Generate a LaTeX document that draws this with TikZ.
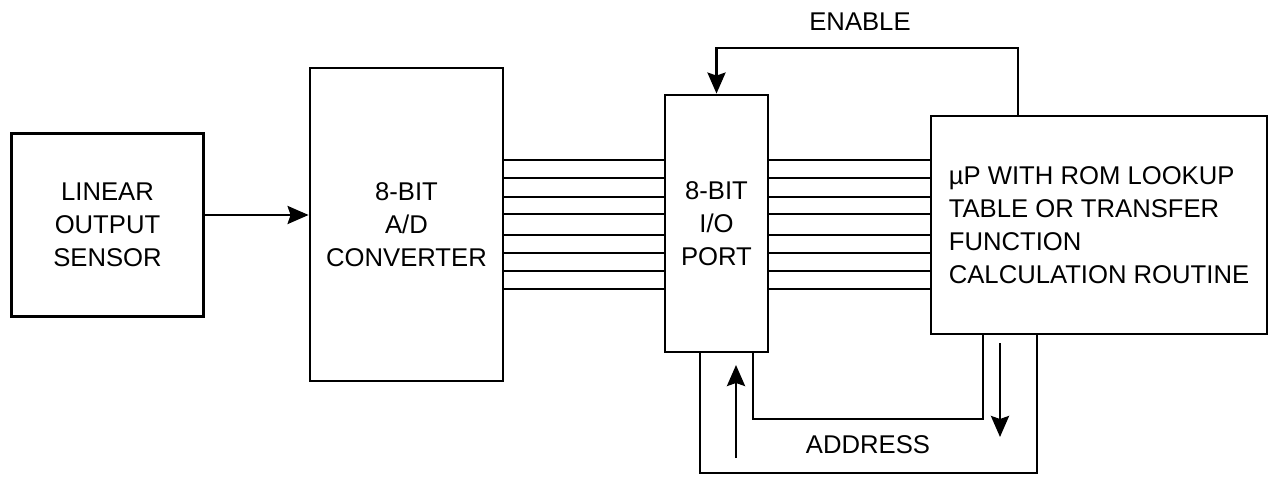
\documentclass[tikz,border=0pt]{standalone}
\usepackage{fontspec}
\setmainfont{Liberation Sans}
\usepackage{tikz}
\usetikzlibrary{arrows.meta, positioning}
\tikzstyle{block} = [rectangle, draw=black, line width=1.6pt, align=center,
                     font=\fontsize{14.6}{18.7}\selectfont]
\tikzstyle{wire}  = [line width=1.6pt]
\tikzstyle{arrow} = [-{Stealth[length=0.42cm, width=0.36cm, inset=0.06cm]}, line width=1.6pt]
\tikzstyle{lbl}   = [font=\fontsize{14.6}{18.7}\selectfont]

\begin{document}
\begin{tikzpicture}
  \useasboundingbox (0,0) rectangle (25.54,9.52);
  \node (sensor) [block, minimum width=3.84cm, minimum height=3.66cm] at (2.15,5.02)
        {LINEAR\\OUTPUT\\SENSOR};
  \node (adc)    [block, minimum width=3.86cm, minimum height=6.26cm] at (8.13,5.03)
        {8-BIT\\A/D\\CONVERTER};
  \node (port)   [block, minimum width=2.06cm, minimum height=5.14cm] at (14.33,5.05)
        {8-BIT\\I/O\\PORT};
  \node (up)     [block, align=left, minimum width=6.72cm, minimum height=4.36cm] at (21.98,5.02)
        {µP WITH ROM LOOKUP\\TABLE OR TRANSFER\\FUNCTION\\CALCULATION ROUTINE};

  \draw [arrow] (sensor.east |- 0,5.22) -- (adc.west |- 0,5.22);

  % 8-bit buses
  \foreach \y in {6.32, 5.96, 5.58, 5.24, 4.82, 4.46, 4.10, 3.74} {
    \draw [wire] (adc.east |- 0,\y) -- (port.west |- 0,\y);
    \draw [wire] (port.east |- 0,\y) -- (up.west |- 0,\y);
  }

  % enable line
  \draw [arrow] (up.north -| 20.36,0) |- (14.33,8.56) -- (port.north);
  \node (enable) [lbl] at (17.2,9.08) {ENABLE};

  % address loops
  \draw [wire] (port.south -| 15.06,0) |- (19.66,1.14) -- (up.south -| 19.66,0);
  \draw [wire] (port.south -| 14.0,0) |- (20.74,0.06) -- (up.south -| 20.74,0);
  \coordinate (upfrom) at (14.72,0.36);
  \coordinate (upto)   at (14.72,2.22);
  \coordinate (dnfrom) at (20.0,2.66);
  \coordinate (dnto)   at (20.0,0.78);
  \draw [arrow] (upfrom) -- (upto);
  \draw [arrow] (dnfrom) -- (dnto);
  \node (address) [lbl] at (17.36,0.62) {ADDRESS};
\end{tikzpicture}
\end{document}
